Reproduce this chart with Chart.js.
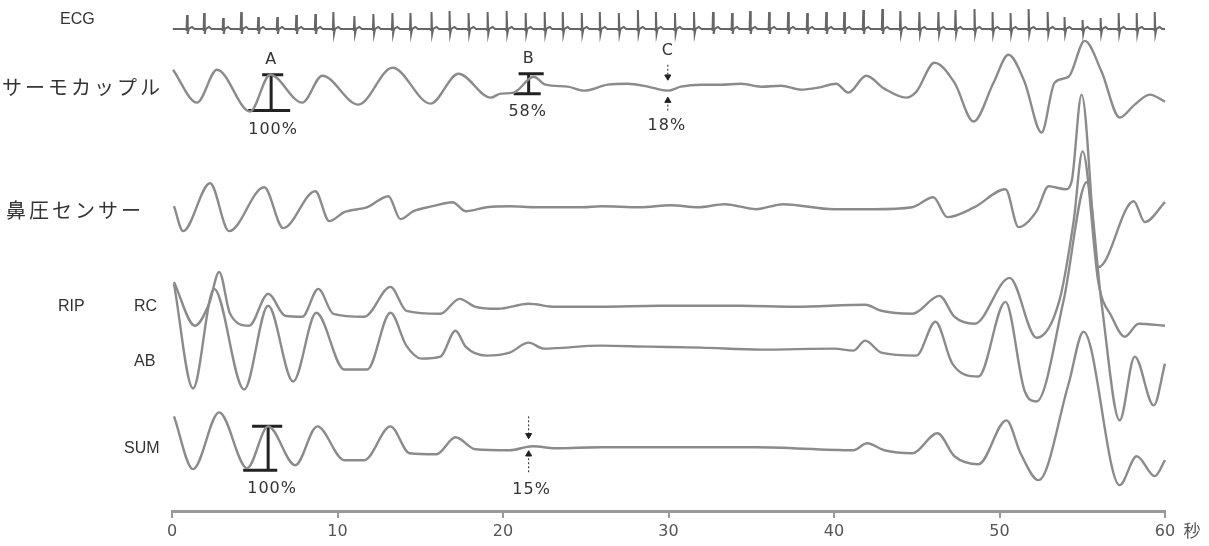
<!DOCTYPE html>
<html>
<head>
<meta charset="utf-8">
<script src="https://cdn.jsdelivr.net/npm/chart.js@4.4.1/dist/chart.umd.min.js"></script>
<style>
html, body { margin: 0; padding: 0; background: #fff; }
#wrap { width: 1209px; height: 546px; }
</style>
</head>
<body>
<div id="wrap"><canvas id="myChart"></canvas></div>
<script>
// time axis, seconds
const xTicks = [0, 10, 20, 30, 40, 50, 60];

// ECG: R-wave times (s) and heights
const ecgBeats = [0.91,1.94,3.09,4.18,5.21,6.36,7.51,8.66,9.75,11.02,12.17,13.32,14.41,
  15.68,16.77,17.92,19.07,20.22,21.37,22.52,23.61,24.76,25.85,27.00,28.15,29.24,30.39,31.54,32.69,33.84,34.93,36.08,37.23,38.38,
  39.53,40.62,41.77,42.92,44.01,45.16,46.31,47.34,48.49,49.58,50.67,51.76,52.91,53.93,55.02,56.11,57.20,58.29,59.38];
const ecgAmp = [14,16,11,17,12,12,14,15,17,13,15,16,16,
  17,18,16,17,18,16,17,17,16,17,16,19,17,16,17,17,16,18,17,17,16,
  17,17,19,20,18,17,17,19,20,17,16,20,17,12,9,11,16,16,17];

// thermocouple
const thermoT = [0.06,1.51,2.72,4.72,5.93,7.87,9.08,11.26,13.32,15.62,17.31,19.25,19.85,20.64,21.85,22.58,23.91,24.88,26.33,27.54,
  28.75,29.96,30.75,31.96,33.17,34.38,35.59,36.80,38.01,39.04,40.13,40.86,41.95,43.04,44.37,44.98,46.07,47.28,48.43,49.64,
  50.54,51.51,52.54,53.33,54.18,55.15,56.17,57.26,58.17,59.08,60];
const thermoV = [20,-13,20,-22,15,-13,14,-15,22,-14,16,-8,-4,-3,13,5,3,-1,5,6,
  3,-1,3,5,5,6,3,4,0,2,6,-3,14,1,-8,-2,27,7,-32,7,
  35,8,-43,7,13,49,18,-28,-15,-5,-12];

// nasal pressure
const nasalT = [0.12,0.67,2.30,3.45,5.57,6.72,8.66,9.50,10.41,11.80,13.08,13.80,14.59,15.74,16.95,17.74,19.01,20.40,22.03,23.43,
  24.82,25.91,28.27,30.15,31.78,33.41,35.29,36.92,40.01,42.37,44.73,46.00,46.85,48.49,50.36,51.15,52.24,52.97,54.00,54.36,
  54.96,55.99,58.11,58.78,60];
const nasalV = [0,-25,23,-25,19,-22,15,-15,-6,-1,10,-13,-5,0,4,-5,-1,0,-1,-1,
  -1,0,-1,1,-1,2,-3,2,-3,-3,-1,9,-11,-1,17,-21,-5,20,17,25,
  112,-61,5,-16,4];

// RIP rib cage
const rcT = [0.12,1.39,2.24,2.85,3.51,4.66,5.81,6.84,7.87,8.84,9.75,11.62,13.20,14.16,16.22,17.37,18.34,19.67,21.55,23.18,
  25.91,29.42,34.38,37.65,41.89,42.86,44.73,46.37,47.28,48.49,50.61,52.24,53.63,54.48,55.02,55.99,56.78,57.57,58.41,60];
const rcV = [25,-19,3,35,-7,-19,13,-9,-10,18,-7,-10,20,-4,-7,8,0,-2,3,0,
  0,1,1,0,2,-4,-7,11,-10,-17,29,-31,7,86,156,23,-10,-30,-17,-19];

// RIP abdomen
const abT = [0.12,1.27,2.54,4.36,5.81,7.32,8.72,10.41,11.80,13.20,14.16,15.07,16.22,17.13,17.74,19.01,20.40,21.55,22.46,25.91,
  28.75,31.96,35.59,40.01,41.16,41.89,42.86,44.98,46.13,47.15,48.73,50.36,51.51,52.24,53.87,55.27,56.17,57.26,58.17,59.32,60];
const abV = [66,-39,61,-40,44,-32,37,-20,-20,37,4,-9,-7,19,3,-6,-3,7,1,4,
  3,2,0,1,-1,9,-3,-6,28,-14,-27,48,-41,-52,49,168,46,-71,-7,-56,-14];

// RIP sum
const sumT = [0.12,1.27,2.85,4.54,5.81,7.45,8.78,10.41,11.62,13.20,14.35,15.98,17.13,18.34,20.40,21.79,23.18,25.91,35.29,41.16,
  42.01,43.04,44.73,46.25,47.28,48.73,50.42,51.27,52.36,54.18,55.08,57.26,58.29,59.38,60];
const sumV = [32,-21,36,-20,22,-17,22,-12,-12,22,-5,-6,11,-1,-2,2,0,1,1,-2,
  5,-2,-5,15,-8,-16,28,-5,-32,65,117,-37,-8,-28,-12];

// amplitude markers: [time, top, bottom, topBarFrom, topBarTo, bottomBarFrom, bottomBarTo]
const markA = [5.99, 15, -21, 5.45, 6.72, 4.60, 7.14];
const markB = [21.55, 16, -4, 20.94, 22.46, 20.64, 22.28];
const markSum = [5.81, 22, -22, 4.84, 6.66, 4.30, 6.36];
// arrow markers: [time, lineTop, arrowTop, arrowBottom, lineBottom]
const arrowC = [29.96, 25, 13, -11, -22];
const arrowSum = [21.55, 32, 13, -6, -25];

const zip = (t, v) => t.map((x, i) => ({ x, y: v[i] }));

const ecgData = [{ x: 0.05, y: 0 }];
ecgBeats.forEach((b, i) => {
  ecgData.push({ x: b - 0.1, y: 0 }, { x: b - 0.03, y: -1 }, { x: b, y: ecgAmp[i] },
    { x: b + 0.04, y: -5 }, { x: b + 0.1, y: 0 }, { x: b + 0.3, y: 2 }, { x: b + 0.45, y: 0 });
});
ecgData.push({ x: 60, y: 0 });

function ibeam(m) {
  return [
    { x: m[3], y: m[1] }, { x: m[4], y: m[1] }, { x: m[4], y: null },
    { x: m[0], y: m[1] }, { x: m[0], y: m[2] }, { x: m[0], y: null },
    { x: m[5], y: m[2] }, { x: m[6], y: m[2] }
  ];
}
function arrowLines(a) {
  return [{ x: a[0], y: a[1] }, { x: a[0], y: a[2] }, { x: a[0], y: null },
    { x: a[0], y: a[3] }, { x: a[0], y: a[4] }];
}

const traceColor = "#8b8b8b";
function trace(data, axis) {
  return {
    data, yAxisID: axis, borderColor: traceColor, borderWidth: 2.4,
    pointRadius: 0, cubicInterpolationMode: "monotone", clip: false
  };
}
function mark(data, axis, width) {
  return {
    data, yAxisID: axis, borderColor: "#222", borderWidth: width,
    pointRadius: 0, tension: 0, spanGaps: false, clip: false
  };
}
function heads(a, axis) {
  return {
    data: [{ x: a[0], y: a[2] }, { x: a[0], y: a[3] }], yAxisID: axis, showLine: false,
    pointStyle: "triangle", pointRadius: 3.5, pointRotation: [180, 0],
    backgroundColor: "#222", borderColor: "#222", borderWidth: 1, clip: false
  };
}

const datasets = [
  { data: ecgData, yAxisID: "yEcg", borderColor: "#666", borderWidth: 2, pointRadius: 0, tension: 0, clip: false },
  trace(zip(thermoT, thermoV), "yThermo"),
  trace(zip(nasalT, nasalV), "yNasal"),
  trace(zip(rcT, rcV), "yRc"),
  trace(zip(abT, abV), "yAb"),
  trace(zip(sumT, sumV), "ySum"),
  mark(ibeam(markA), "yThermo", 3),
  mark(ibeam(markB), "yThermo", 3),
  mark(ibeam(markSum), "ySum", 3),
  Object.assign(mark(arrowLines(arrowC), "yThermo", 1), { borderDash: [2, 2] }),
  Object.assign(mark(arrowLines(arrowSum), "ySum", 1), { borderDash: [2, 2] }),
  heads(arrowC, "yThermo"),
  heads(arrowSum, "ySum")
];

function channel(min, max, stackWeight, weight) {
  return { type: "linear", display: false, position: "left", stack: "ch", stackWeight, weight, min, max };
}

const labels = {
  id: "labels",
  afterDraw(chart) {
    const ctx = chart.ctx;
    const x = chart.scales.x;
    ctx.save();
    ctx.fillStyle = "#333";
    ctx.textBaseline = "middle";
    ctx.textAlign = "left";
    ctx.font = "16px 'Liberation Sans'";
    ctx.fillText("ECG", 60, 20);
    ctx.fillText("RIP", 58, 307);
    ctx.fillText("RC", 134, 307);
    ctx.fillText("AB", 134, 362);
    ctx.fillText("SUM", 124, 449);
    ctx.font = "20px 'Noto Sans CJK JP'";
    ctx.letterSpacing = "3px";
    ctx.fillText("サーモカップル", 2, 87);
    ctx.fillText("鼻圧センサー", 6, 210);
    ctx.letterSpacing = "1px";
    ctx.textAlign = "center";
    ctx.font = "16px 'DejaVu Sans'";
    const notes = [
      ["A", 5.99, 30, "yThermo"], ["100%", 6.11, -40, "yThermo"],
      ["B", 21.55, 31, "yThermo"], ["58%", 21.49, -22, "yThermo"],
      ["C", 29.96, 39, "yThermo"], ["18%", 29.9, -36, "yThermo"],
      ["100%", 6.05, -41, "ySum"], ["15%", 21.73, -42, "ySum"]
    ];
    notes.forEach(([txt, t, v, id]) => {
      ctx.fillText(txt, x.getPixelForValue(t), chart.scales[id].getPixelForValue(v));
    });
    ctx.letterSpacing = "0px";
    ctx.fillStyle = "#555";
    ctx.font = "17px 'Noto Sans CJK JP'";
    ctx.fillText("秒", x.getPixelForValue(60) + 27, 531);
    ctx.restore();
  }
};

const config = {
  type: "line",
  data: { datasets },
  options: {
    responsive: true,
    maintainAspectRatio: false,
    animation: false,
    layout: { padding: { left: 172, right: 44, top: 0, bottom: 0 } },
    plugins: { legend: { display: false }, tooltip: { enabled: false } },
    scales: {
      x: {
        type: "linear", min: 0, max: 60,
        afterBuildTicks: (s) => { s.ticks = xTicks.map((v) => ({ value: v })); },
        border: { display: true, color: "#9a9a9a", width: 3 },
        grid: { display: true, drawOnChartArea: false, drawTicks: true, tickLength: 7, color: "#9a9a9a", lineWidth: 2 },
        ticks: { color: "#555", font: { family: "DejaVu Sans", size: 16, lineHeight: 1.0 }, padding: 6, maxRotation: 0 }
      },
      yEcg: channel(-16, 24, 40, 6),
      yThermo: channel(-65, 45, 110, 5),
      yNasal: channel(-48, 52, 100, 4),
      yRc: channel(-19, 53, 72, 3),
      yAb: channel(-49, 24, 73, 2),
      ySum: channel(-63, 50, 113, 1)
    }
  },
  plugins: [labels]
};

const myChart = document.getElementById("myChart");
myChart.style.backgroundColor = "white";
new Chart(myChart, config);
</script>
</body>
</html>
